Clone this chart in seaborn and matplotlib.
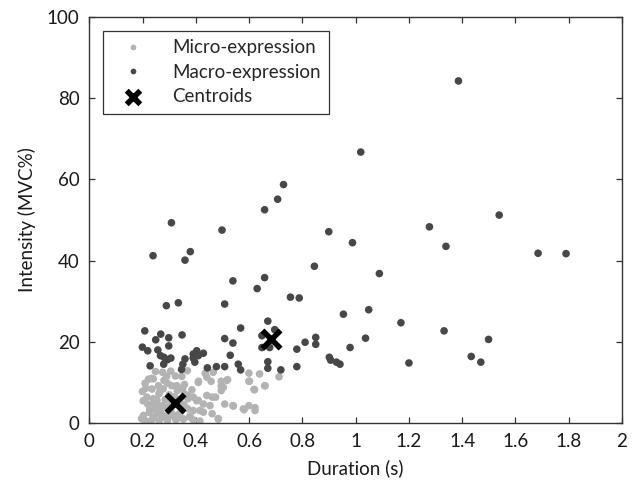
import matplotlib
matplotlib.use("Agg")
import matplotlib.pyplot as plt
import seaborn as sns
import pandas as pd

# duracion (s) e intensidad (MVC%)
micro_dur = [0.248, 0.368, 0.323, 0.435, 0.599, 0.639, 0.712, 0.519, 0.599, 0.658,
             0.618, 0.495, 0.495, 0.495, 0.457, 0.410, 0.357, 0.328, 0.293, 0.232,
             0.209, 0.199, 0.235, 0.261, 0.216, 0.254, 0.219, 0.274, 0.235, 0.203,
             0.196, 0.235, 0.274, 0.299, 0.338, 0.306, 0.357, 0.370, 0.390, 0.409,
             0.428, 0.441, 0.461, 0.474, 0.390, 0.415, 0.428, 0.377, 0.390, 0.415,
             0.461, 0.484, 0.508, 0.539, 0.578, 0.599, 0.622, 0.351, 0.325, 0.267,
             0.293, 0.240, 0.290, 0.347, 0.259, 0.277, 0.309, 0.202, 0.240, 0.227,
             0.259, 0.202, 0.240, 0.277, 0.290, 0.371, 0.403, 0.378, 0.353, 0.453,
             0.484, 0.516, 0.503, 0.465, 0.441, 0.409, 0.601, 0.660, 0.620, 0.541,
             0.581, 0.622, 0.300, 0.320, 0.340, 0.310, 0.285, 0.265, 0.345, 0.315,
             0.330, 0.255, 0.225, 0.212, 0.280, 0.300, 0.355, 0.368, 0.385, 0.295,
             0.262, 0.215, 0.245, 0.330, 0.350, 0.222, 0.275, 0.305]
micro_int = [12.7, 12.9, 11.6, 12.3, 12.3, 12.1, 11.4, 10.7, 10.3, 9.2,
             8.3, 10.3, 9.1, 8.0, 10.3, 10.3, 9.5, 9.2, 9.8, 11.0,
             9.8, 7.8, 8.4, 7.2, 6.4, 5.6, 4.7, 4.3, 3.5, 1.9,
             1.1, 0.8, 1.5, 2.3, 4.3, 3.1, 7.2, 6.0, 6.4, 5.6,
             4.7, 6.8, 6.4, 6.4, 3.1, 3.1, 2.7, 1.5, 0.8, 0.5,
             2.3, 1.1, 4.7, 4.3, 3.5, 4.3, 3.8, 1.1, 0.8, 2.7,
             0.5, 10.9, 11.5, 11.5, 9.2, 8.4, 9.2, 5.5, 6.0, 3.5,
             3.9, 1.0, 1.4, 1.8, 3.9, 6.8, 5.5, 1.8, 1.0, 4.3,
             1.0, 10.5, 8.8, 12.5, 11.3, 10.0, 10.3, 9.2, 8.2, 4.2,
             3.3, 3.1, 7.0, 6.5, 5.8, 5.0, 5.8, 7.8, 3.0, 1.8,
             2.0, 2.4, 2.6, 8.6, 10.5, 4.2, 4.5, 3.6, 8.2, 1.2,
             0.6, 0.4, 4.8, 8.0, 8.6, 10.8, 12.5, 12.8]

macro_dur = [1.386, 1.019, 0.729, 0.707, 0.658, 1.539, 0.308, 0.498, 0.899, 1.277,
             0.988, 1.339, 0.239, 0.379, 0.359, 1.685, 1.790, 0.845, 1.089, 0.539,
             0.658, 0.630, 0.755, 0.788, 0.289, 0.334, 0.508, 0.954, 1.049, 1.170,
             0.670, 0.568, 1.332, 0.208, 0.268, 0.348, 0.298, 0.249, 0.508, 0.539,
             0.850, 0.850, 0.810, 1.037, 1.499, 0.696, 0.648, 0.648, 0.677, 0.298,
             0.199, 0.219, 0.257, 0.779, 0.979, 0.267, 0.280, 0.306, 0.293, 0.390,
             0.403, 0.428, 0.409, 0.390, 0.359, 0.529, 0.901, 0.906, 0.928, 0.941,
             1.434, 1.470, 1.200, 0.228, 0.279, 0.351, 0.396, 0.559, 0.670, 0.346,
             0.443, 0.477, 0.508, 0.568, 0.670, 0.719, 0.779]
macro_int = [84.2, 66.7, 58.7, 55.1, 52.5, 51.2, 49.3, 47.5, 47.1, 48.3,
             44.4, 43.5, 41.2, 42.2, 40.1, 41.8, 41.7, 38.6, 36.8, 35.0,
             35.8, 33.1, 31.0, 30.8, 28.9, 29.6, 29.3, 26.8, 27.9, 24.7,
             25.1, 23.4, 22.7, 22.7, 21.9, 21.7, 21.0, 20.5, 20.8, 19.7,
             21.1, 19.4, 19.9, 20.9, 20.6, 23.0, 21.5, 18.6, 18.6, 19.0,
             18.7, 17.8, 18.0, 18.2, 18.6, 16.6, 16.2, 16.0, 15.6, 17.0,
             17.8, 17.2, 16.6, 16.0, 15.8, 16.7, 16.2, 15.5, 15.0, 14.5,
             16.4, 15.0, 14.8, 14.1, 14.5, 14.5, 15.0, 14.5, 15.1, 13.2,
             13.6, 13.9, 13.9, 13.1, 13.5, 13.1, 13.9]

centroid_dur = [0.322, 0.682]
centroid_int = [5.0, 20.8]

df = pd.concat([
    pd.DataFrame({"dur": micro_dur, "int": micro_int, "tipo": "Micro-expression"}),
    pd.DataFrame({"dur": macro_dur, "int": macro_int, "tipo": "Macro-expression"}),
], ignore_index=True)
cent = pd.DataFrame({"dur": centroid_dur, "int": centroid_int})

sns.set_style("white")
plt.rcParams['font.family'] = ['Lato', 'DejaVu Sans']

fig = plt.figure(figsize=(6.34, 4.92), dpi=100)
ax = fig.add_axes([0.141, 0.140, 0.840, 0.826])

sns.scatterplot(data=df, x="dur", y="int", hue="tipo",
                palette={"Micro-expression": "#b3b3b3", "Macro-expression": "#474747"},
                s=30, linewidth=0, ax=ax)
sns.scatterplot(data=cent, x="dur", y="int", marker="x", color="black",
                s=170, linewidth=4, label="Centroids", ax=ax)

ax.set_xlim(0, 2)
ax.set_ylim(0, 100)
ax.set_xticks([0, 0.2, 0.4, 0.6, 0.8, 1, 1.2, 1.4, 1.6, 1.8, 2])
ax.set_xticklabels(["0", "0.2", "0.4", "0.6", "0.8", "1", "1.2", "1.4", "1.6", "1.8", "2"])
ax.set_yticks([0, 20, 40, 60, 80, 100])
ax.tick_params(direction="in", length=4, width=0.9, colors="#333333",
               labelcolor="#1a1a1a", labelsize=13.5, top=True, right=True,
               bottom=True, left=True, pad=7)
for sp in ax.spines.values():
    sp.set_color("#333333")
    sp.set_linewidth(1.0)

ax.set_xlabel("Duration (s)", fontsize=13.5, color="#1a1a1a", labelpad=7)
ax.set_ylabel("Intensity (MVC%)", fontsize=13.5, color="#1a1a1a", labelpad=8)

leg = ax.legend(loc="upper left", fontsize=13.5, frameon=True, fancybox=False,
                edgecolor="black", borderaxespad=0.75, handletextpad=1.0,
                handlelength=2.2, labelspacing=0.4, markerscale=0.75, borderpad=0.45)
leg.get_frame().set_linewidth(0.9)

fig.savefig("out.png", dpi=100)
